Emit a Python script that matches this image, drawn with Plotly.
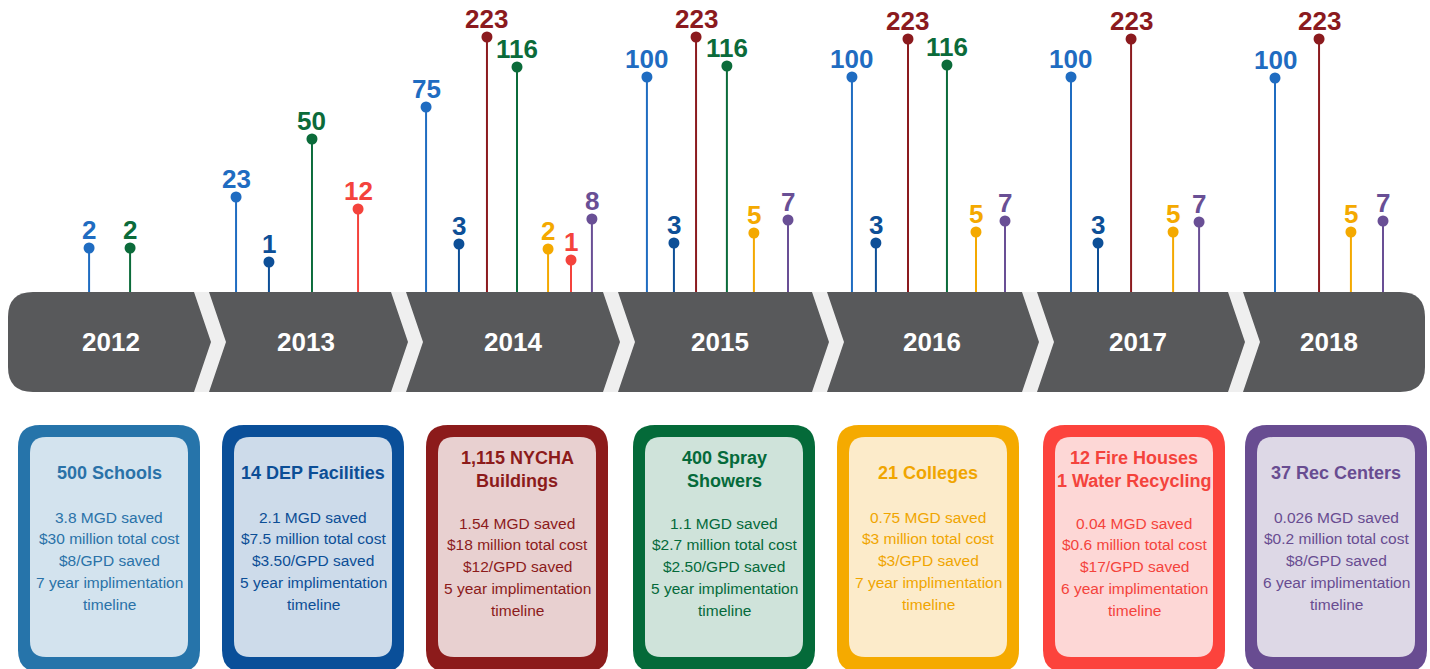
import plotly.graph_objects as go

# Timeline: years shown on the grey band
years = [2012, 2013, 2014, 2015, 2016, 2017, 2018]

# Each program: position on the timeline (year + fraction), number installed, stem level
schools_pos = [2012.392, 2013.116, 2014.052, 2015.140, 2016.150, 2017.229, 2018.234]
schools_val = [2, 23, 75, 100, 100, 100, 100]
schools_lvl = [44, 95, 185, 215, 215, 215, 214]

dep_pos = [2013.278, 2014.214, 2015.273, 2016.268, 2017.362]
dep_val = [1, 3, 3, 3, 3]
dep_lvl = [30, 48, 49, 49, 49]

nycha_pos = [2014.352, 2015.382, 2016.426, 2017.525, 2018.451]
nycha_val = [223, 223, 223, 223, 223]
nycha_lvl = [255, 255, 253, 253, 253]

spray_pos = [2012.594, 2013.490, 2014.500, 2015.534, 2016.618]
spray_val = [2, 50, 116, 116, 116]
spray_lvl = [44, 153, 225, 226, 227]

college_pos = [2014.653, 2015.667, 2016.761, 2017.732, 2018.608]
college_val = [2, 5, 5, 5, 5]
college_lvl = [43, 59, 60, 60, 60]

fire_pos = [2013.717, 2014.766]
fire_val = [12, 1]
fire_lvl = [83, 32]

rec_pos = [2014.869, 2015.835, 2016.904, 2017.860, 2018.766]
rec_val = [8, 7, 7, 7, 7]
rec_lvl = [73, 72, 71, 70, 71]

# Program cards
card_titles = [["500 Schools"], ["14 DEP Facilities"], ["1,115 NYCHA", "Buildings"], ["400 Spray", "Showers"],
               ["21 Colleges"], ["12 Fire Houses", "1 Water Recycling"], ["37 Rec Centers"]]
card_mgd = ["3.8", "2.1", "1.54", "1.1", "0.75", "0.04", "0.026"]
card_cost = ["$30 million", "$7.5 million", "$18 million", "$2.7 million", "$3 million", "$0.6 million", "$0.2 million"]
card_gpd = ["$8", "$3.50", "$12", "$2.50", "$3", "$17", "$8"]
card_years = [7, 5, 5, 5, 7, 6, 6]

FONT = "Liberation Sans, Arial, sans-serif"

programs = [
    (schools_pos, schools_val, schools_lvl, "#1f6cc1"),
    (dep_pos, dep_val, dep_lvl, "#0d4f97"),
    (nycha_pos, nycha_val, nycha_lvl, "#8b1a1e"),
    (spray_pos, spray_val, spray_lvl, "#0b6b3a"),
    (college_pos, college_val, college_lvl, "#f4a900"),
    (fire_pos, fire_val, fire_lvl, "#f4433c"),
    (rec_pos, rec_val, rec_lvl, "#694f95"),
]

card_style = [
    ("#2674aa", "#d3e3ee", "#2a72a8"),
    ("#0a4f99", "#cddbea", "#0c4e96"),
    ("#8c1b1b", "#e8d0d0", "#8c1b1b"),
    ("#046a39", "#cfe3da", "#056a3a"),
    ("#f5aa00", "#fcebca", "#f0a500"),
    ("#fc433c", "#fdd7d6", "#f4433c"),
    ("#684c91", "#ddd8e6", "#684c91"),
]
card_left = [18, 222, 426, 633, 837, 1043, 1245]

fig = go.Figure()
annotations = []

for pos, val, lvl, col in programs:
    sx, sy = [], []
    for p, h in zip(pos, lvl):
        sx += [p, p, None]
        sy += [0, h, None]
    fig.add_trace(go.Scatter(x=sx, y=sy, mode="lines", line=dict(color=col, width=2),
                             hoverinfo="skip", showlegend=False))
    fig.add_trace(go.Scatter(x=pos, y=lvl, mode="markers", marker=dict(color=col, size=11),
                             showlegend=False))
    for p, h, v in zip(pos, lvl, val):
        annotations.append(dict(x=p, y=h, xref="x", yref="y", text="<b>%d</b>" % v, showarrow=False,
                                yanchor="middle", yshift=18,
                                font=dict(family=FONT, size=26, color=col)))


def rrect(x0, y0, x1, y1, r):
    return (f"M{x0+r},{y0} L{x1-r},{y0} Q{x1},{y0} {x1},{y0+r} L{x1},{y1-r} Q{x1},{y1} {x1-r},{y1} "
            f"L{x0+r},{y1} Q{x0},{y1} {x0},{y1-r} L{x0},{y0+r} Q{x0},{y0} {x0+r},{y0} Z")


shapes = []
# grey band
shapes.append(dict(type="path", path=rrect(8, 292, 1425, 392, 25), xref="x2", yref="y2",
                   fillcolor="#58595b", line=dict(width=0), layer="below"))
# chevrons between years
for L in [194, 391, 603, 812, 1022, 1228]:
    p = f"M{L},292 L{L+15},292 L{L+32},342 L{L+15},392 L{L},392 L{L+17},342 Z"
    shapes.append(dict(type="path", path=p, xref="x2", yref="y2",
                       fillcolor="#efefef", line=dict(width=0), layer="below"))
# cards
for L, (edge, fill, txt) in zip(card_left, card_style):
    shapes.append(dict(type="path", path=rrect(L, 425, L + 182, 672, 22), xref="x2", yref="y2",
                       fillcolor=edge, line=dict(width=0), layer="below"))
    shapes.append(dict(type="path", path=rrect(L + 12, 437, L + 170, 657, 16), xref="x2", yref="y2",
                       fillcolor=fill, line=dict(width=0), layer="below"))

year_px = [111, 306, 513, 720, 932, 1138, 1329]
for yr, xp in zip(years, year_px):
    annotations.append(dict(x=xp, y=342, xref="x2", yref="y2", text="<b>%d</b>" % yr, showarrow=False,
                            font=dict(family=FONT, size=26, color="white")))

for i, L in enumerate(card_left):
    txt = card_style[i][2]
    title = card_titles[i]
    ty = [473] if len(title) == 1 else [458, 481]
    for line, y in zip(title, ty):
        annotations.append(dict(x=L + 91, y=y, xref="x2", yref="y2", text="<b>%s</b>" % line,
                                showarrow=False, font=dict(family=FONT, size=18, color=txt)))
    body = [card_mgd[i] + " MGD saved", card_cost[i] + " total cost",
            card_gpd[i] + "/GPD saved", "%d year implimentation" % card_years[i], "timeline"]
    y0 = 517 if len(title) == 1 else 523
    for k, line in enumerate(body):
        annotations.append(dict(x=L + 91, y=y0 + k * 21.8, xref="x2", yref="y2", text=line,
                                showarrow=False, font=dict(family=FONT, size=15.5, color=txt)))

fig.update_layout(
    width=1430, height=669,
    margin=dict(l=0, r=0, t=0, b=0),
    paper_bgcolor="white", plot_bgcolor="white",
    xaxis=dict(range=[2011.95320, 2018.99754], visible=False, fixedrange=True),
    yaxis=dict(range=[-377, 292], visible=False, fixedrange=True),
    xaxis2=dict(range=[0, 1430], overlaying="x", visible=False, fixedrange=True),
    yaxis2=dict(range=[669, 0], overlaying="y", visible=False, fixedrange=True),
    shapes=shapes,
    annotations=annotations,
    showlegend=False,
    hovermode=False,
)

# drop the browser's default page margin so the figure fills the window
fig.write_html("out.html", config={"displayModeBar": False},
               post_script="document.body.style.margin='0';document.body.style.overflow='hidden';")
